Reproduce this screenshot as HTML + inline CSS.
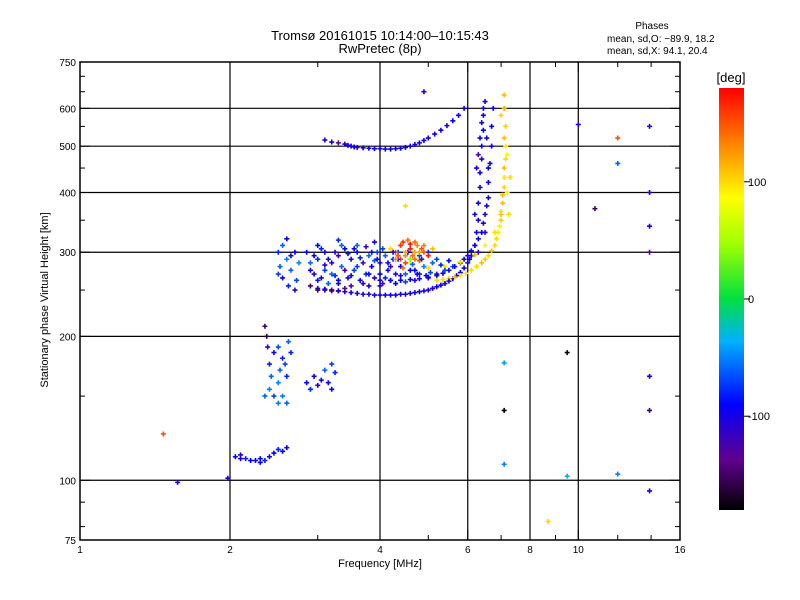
<!DOCTYPE html>
<html><head><meta charset="utf-8"><style>
body{margin:0;background:#fff;}
svg{display:block;font-family:"Liberation Sans",sans-serif;}
</style></head><body>
<svg id="chart" width="800" height="600">
<rect width="800" height="600" fill="#fff"/>
<text x="380" y="40" font-size="13" text-anchor="middle">Tromsø 20161015 10:14:00–10:15:43</text>
<text x="380" y="53" font-size="13" text-anchor="middle">RwPretec (8p)</text>
<text x="652" y="29" font-size="10" text-anchor="middle">Phases</text>
<text x="607" y="42" font-size="10">mean, sd,O: −89.9, 18.2</text>
<text x="607" y="54" font-size="10">mean, sd,X:  94.1, 20.4</text>
<g id="grid"></g>
<g id="marks"></g>
<rect x="80" y="62" width="600" height="478" fill="none" stroke="#000" stroke-width="1.5"/>
<g id="axes"></g>
<text x="380" y="567" font-size="11" text-anchor="middle">Frequency [MHz]</text>
<text transform="translate(48,300) rotate(-90)" font-size="11" text-anchor="middle">Stationary phase Virtual Height [km]</text>
<defs><linearGradient id="cb" x1="0" y1="1" x2="0" y2="0">
<stop offset="0" stop-color="#000"/><stop offset="0.12" stop-color="#60008f"/><stop offset="0.25" stop-color="#0000ff"/><stop offset="0.4" stop-color="#00b0ff"/><stop offset="0.5" stop-color="#00e040"/><stop offset="0.63" stop-color="#a0ff00"/><stop offset="0.74" stop-color="#ffff00"/><stop offset="0.87" stop-color="#ff8000"/><stop offset="1" stop-color="#ff0000"/></linearGradient></defs>
<rect x="719" y="88" width="25" height="422" fill="url(#cb)"/>
<text x="731" y="82" font-size="13" text-anchor="middle">[deg]</text>
<g id="cbticks"></g>
</svg>
<script>
const xTicks=[1,2,4,6,8,10,16];
const xGrid=[2,4,6,8,10];
const xMinor=[3,5,7,9,12,14];
const yTicks=[75,100,200,300,400,500,600,750];
const yGrid=[100,200,300,400,500,600];
const yMinor=[80,90,150,250,350,450,550,650,700];
const cbTicks=[100,0,-100];
// echo points: frequency (MHz), height (km), phase (deg)
const freq=[
3.0,3.2,3.4,3.6,3.8,4.0,4.2,4.4,4.6,4.8,5.0,5.2,5.4,5.6,5.8,6.0,6.1,6.2,6.25,6.3,6.3,6.35,6.35,6.4,6.4,6.45,6.45,6.5,
4.0,4.4,4.8,5.2,5.5,5.8,6.0,6.2,6.4,6.5,6.6,6.6,6.65,6.7,6.7,6.75,
5.2,5.5,5.8,6.1,6.4,6.6,6.8,6.9,7.0,7.05,7.1,7.1,7.15,7.15,7.1,7.1,
4.6,5.0,5.4,5.8,6.2,6.5,6.8,7.0,7.2,7.3,
3.1,3.3,3.4,3.5,3.6,3.8,4.0,4.2,4.4,4.6,4.8,5.0,5.3,5.6,5.9,
2.85,2.9,2.95,3.0,3.05,3.1,3.1,3.15,3.2,3.25,3.3,3.3,3.35,3.4,3.45,3.5,3.5,3.55,3.6,3.65,3.7,3.75,3.8,3.8,3.85,3.9,3.95,4.0,4.0,4.05,4.1,4.15,4.2,4.25,4.3,4.35,4.4,4.5,4.6,4.7,4.8,4.9,5.0,5.1,5.2,3.0,3.3,3.6,3.9,3.2,3.4,2.9,
3.0,3.1,3.2,3.3,
4.3,4.4,4.5,4.6,4.7,4.8,4.5,4.4,4.9,5.0,4.6,4.7,4.2,4.8,4.55,5.1,
2.5,2.52,2.55,2.6,2.62,2.65,2.7,2.72,2.75,2.55,2.6,2.7,2.5,2.65,
2.35,2.37,2.38,2.4,2.42,2.4,2.45,2.5,2.52,2.55,2.5,2.55,2.6,2.6,2.58,2.45,2.62,2.65,2.5,2.35,
2.85,2.9,2.95,3.0,3.05,3.1,3.15,3.2,3.25,3.2,
2.05,2.1,2.15,2.2,2.25,2.3,2.35,2.4,2.45,2.5,2.55,2.6,2.1,2.3,
1.57,1.47,1.98,4.9,10.0,12.0,12.0,13.9,13.9,13.9,13.9,10.8,9.5,7.1,7.1,7.1,8.7,12.0,13.9,13.9,13.9,9.5,4.5,
2.9,3.0,3.1,3.2,3.3,3.4,3.5,3.6,3.7,3.8,3.9,4.0,4.1,4.2,4.3,4.4,4.5,4.6,4.7,4.8,5.0,5.2,5.4,5.6,2.95,3.05,3.15,3.25,3.35,3.45,3.55,3.65,3.75,3.85,3.95,4.05,4.15,4.25,4.35,4.45,4.55,4.65,4.75,4.85,4.95,5.05,5.3,5.5,
3.1,3.3,3.5,3.7,3.9,4.1,4.3,4.5,4.7,4.9,5.1,5.3,5.5,5.7,5.9,6.05,
4.2,4.6,5.0,5.35,5.65,5.9,6.1,6.3,6.45,6.55,
6.2,6.3,6.25,6.35,6.4,6.3,6.45,6.6,6.55,6.5,
5.35,5.65,5.95,6.25,6.5,6.7,6.85,6.95,7.0,7.05,7.1,7.15,7.2,7.25,7.1,7.0,
4.35,4.45,4.65,4.75,4.85,4.5,4.6,4.7,4.3,4.9,
3.2,3.45,3.55,3.7,3.9,4.1,4.3,4.5,4.7,4.9,5.15,5.45,5.75];
const height=[
252,250,248,246,245,244,244,245,246,248,250,254,258,264,272,285,295,310,330,350,380,410,440,470,500,540,580,620,
262,262,264,268,275,285,295,310,330,360,390,420,460,500,550,600,
262,264,268,275,285,295,310,330,350,380,410,450,500,550,600,640,
285,278,280,286,296,310,330,360,400,430,
515,508,505,500,497,495,494,493,495,500,508,520,540,565,600,
300,285,270,290,265,275,300,258,285,268,295,258,280,305,265,290,255,275,300,262,285,270,295,255,280,265,300,285,270,258,295,275,262,290,270,300,280,270,290,275,295,280,300,285,290,310,318,310,315,250,252,255,
250,250,249,249,
300,310,295,305,315,300,285,290,310,295,290,300,305,288,318,305,
300,280,265,290,255,275,300,262,285,310,320,250,270,295,
210,200,190,175,165,155,150,160,170,180,190,150,145,165,175,185,195,185,145,150,
160,155,165,158,162,170,160,155,168,175,
112,111,111,110,110,109,110,112,114,116,115,117,113,111,
99,125,101,650,555,460,520,550,400,340,300,370,185,176,140,108,82,103,95,165,140,102,375,
275,262,282,270,262,275,268,280,258,270,288,255,265,280,258,268,260,275,262,270,265,270,275,280,295,305,290,300,310,298,305,292,308,300,290,305,285,300,290,278,300,283,270,290,268,272,282,288,
251,249,247,245,244,244,244,245,247,249,252,256,261,268,278,290,
262,263,266,271,280,290,302,320,345,375,
360,300,450,520,560,480,600,450,520,330,
263,266,271,280,290,302,320,340,365,395,430,470,480,360,520,580,
295,315,295,310,305,300,312,290,290,300,
510,502,498,496,494,493,494,497,504,514,530,552,580];
const phase=[
-100,-100,-100,-100,-100,-100,-100,-100,-100,-100,-100,-100,-100,-100,-100,-100,-100,-100,-100,-100,-95,-100,-95,-100,-100,-95,-100,-100,
-100,-90,-95,-90,-95,-90,-100,-95,-90,-100,-95,-90,-100,-95,-90,-100,
100,105,95,100,110,100,100,95,105,110,100,110,95,105,120,110,
90,100,95,100,110,80,100,110,90,100,
-110,-140,-100,-100,-120,-100,-100,-100,-95,-100,-100,-100,-95,-90,-100,
-90,-60,-100,-80,-110,-70,-100,-60,-100,-80,-120,-100,-60,-90,-110,-100,-130,-70,-90,-100,-120,-80,-60,-100,-90,-110,-70,-100,-90,-130,-60,-100,-90,-80,-110,-70,-100,-60,-80,-90,-70,-50,-80,-60,-70,-90,-80,-60,-100,-140,-140,-150,
-150,-140,-150,-140,
150,160,130,170,140,120,160,150,130,170,40,120,100,150,140,110,
-80,-60,-100,-50,-80,-60,-90,-70,-50,-60,-90,-110,-70,-100,
-150,-160,-120,-80,-60,-50,-70,-50,-60,-80,-70,-50,-60,-80,-70,-100,-60,-80,-50,-60,
-90,-80,-100,-110,-90,-60,-100,-90,-80,-70,
-90,-100,-80,-90,-100,-90,-80,-100,-90,-80,-90,-100,-110,-90,
-100,150,-100,-100,-100,-60,150,-100,-100,-100,-130,-150,-170,-40,-180,-50,100,-50,-100,-100,-150,-30,100,
-100,-80,-110,-60,-90,-130,-100,-70,-110,-90,-60,-100,-80,-120,-90,-100,-70,-90,-110,-80,-90,-100,-70,-60,-90,-80,-100,-110,-60,-90,-100,-80,-120,-90,-100,-70,-90,-100,-80,140,-90,-60,-100,-80,-90,-70,-80,-90,
-100,-100,-100,-100,-100,-100,-100,-100,-100,-100,-100,-100,-100,-100,-100,-100,
-95,-90,-100,-95,-90,-100,-95,-90,-100,-95,
-100,-110,-100,-90,-100,-130,-100,-90,-100,-110,
100,110,95,100,105,110,100,90,100,110,95,100,80,100,110,100,
150,160,140,130,150,120,170,140,130,150,
-100,-110,-100,-100,-100,-100,-100,-100,-100,-100,-95,-100,-100];
const X0=80,X1=680,Y0=540,Y1=62;
const xs=f=>X0+(X1-X0)*Math.log2(f)/4;
const ys=h=>Y0-(Y0-Y1)*Math.log10(h/75);
const cy=p=>510-(p+180)/360*422;
const NS='http://www.w3.org/2000/svg';
function mk(parent,tag,attrs){const e=document.createElementNS(NS,tag);for(const k in attrs)e.setAttribute(k,attrs[k]);parent.appendChild(e);return e;}
const stops=[[-180,[0,0,0]],[-137,[96,0,143]],[-90,[0,0,255]],[-36,[0,176,255]],[0,[0,224,64]],[47,[160,255,0]],[86,[255,255,0]],[133,[255,128,0]],[180,[255,0,0]]];
function col(p){for(let i=1;i<stops.length;i++){if(p<=stops[i][0]){const a=stops[i-1],b=stops[i],t=(p-a[0])/(b[0]-a[0]);return 'rgb('+a[1].map((v,j)=>Math.round(v+(b[1][j]-v)*t)).join(',')+')';}}return 'rgb(255,0,0)';}
const grid=document.getElementById('grid'),axes=document.getElementById('axes'),marks=document.getElementById('marks'),cbt=document.getElementById('cbticks');
xGrid.forEach(v=>{const l=mk(grid,'line',{x1:xs(v),x2:xs(v),y1:Y1,y2:Y0,stroke:'#000','stroke-width':1.2});

});
yGrid.forEach(v=>{const l=mk(grid,'line',{x1:X0,x2:X1,y1:ys(v),y2:ys(v),stroke:'#000','stroke-width':1.2});

});
xTicks.forEach(v=>{const t=mk(axes,'text',{x:xs(v),y:553,'font-size':10,'text-anchor':'middle'});t.textContent=v;


mk(axes,'line',{x1:xs(v),x2:xs(v),y1:Y1,y2:Y1+10,stroke:'#000'});mk(axes,'line',{x1:xs(v),x2:xs(v),y1:Y0,y2:Y0-10,stroke:'#000'});});
xMinor.forEach(v=>{mk(axes,'line',{x1:xs(v),x2:xs(v),y1:Y1,y2:Y1+5,stroke:'#000'});mk(axes,'line',{x1:xs(v),x2:xs(v),y1:Y0,y2:Y0-5,stroke:'#000'});});
yTicks.forEach(v=>{const t=mk(axes,'text',{x:76,y:ys(v)+4,'font-size':10,'text-anchor':'end'});t.textContent=v;


mk(axes,'line',{x1:X0,x2:X0+10,y1:ys(v),y2:ys(v),stroke:'#000'});mk(axes,'line',{x1:X1,x2:X1-10,y1:ys(v),y2:ys(v),stroke:'#000'});});
yMinor.forEach(v=>{mk(axes,'line',{x1:X0,x2:X0+5,y1:ys(v),y2:ys(v),stroke:'#000'});mk(axes,'line',{x1:X1,x2:X1-5,y1:ys(v),y2:ys(v),stroke:'#000'});});
for(let i=0;i<freq.length;i++){const x=xs(freq[i]),y=ys(height[i]),c=col(phase[i]);
const p=mk(marks,'path',{d:`M${x-2.5},${y}h5M${x},${y-2.5}v5`,stroke:c,'stroke-width':1.6});

}
cbTicks.forEach(v=>{mk(cbt,'line',{x1:744,x2:750,y1:cy(v),y2:cy(v),stroke:'#000'});const t=mk(cbt,'text',{x:748,y:cy(v)+4,'font-size':11});t.textContent=v;

});
</script>
</body></html>
